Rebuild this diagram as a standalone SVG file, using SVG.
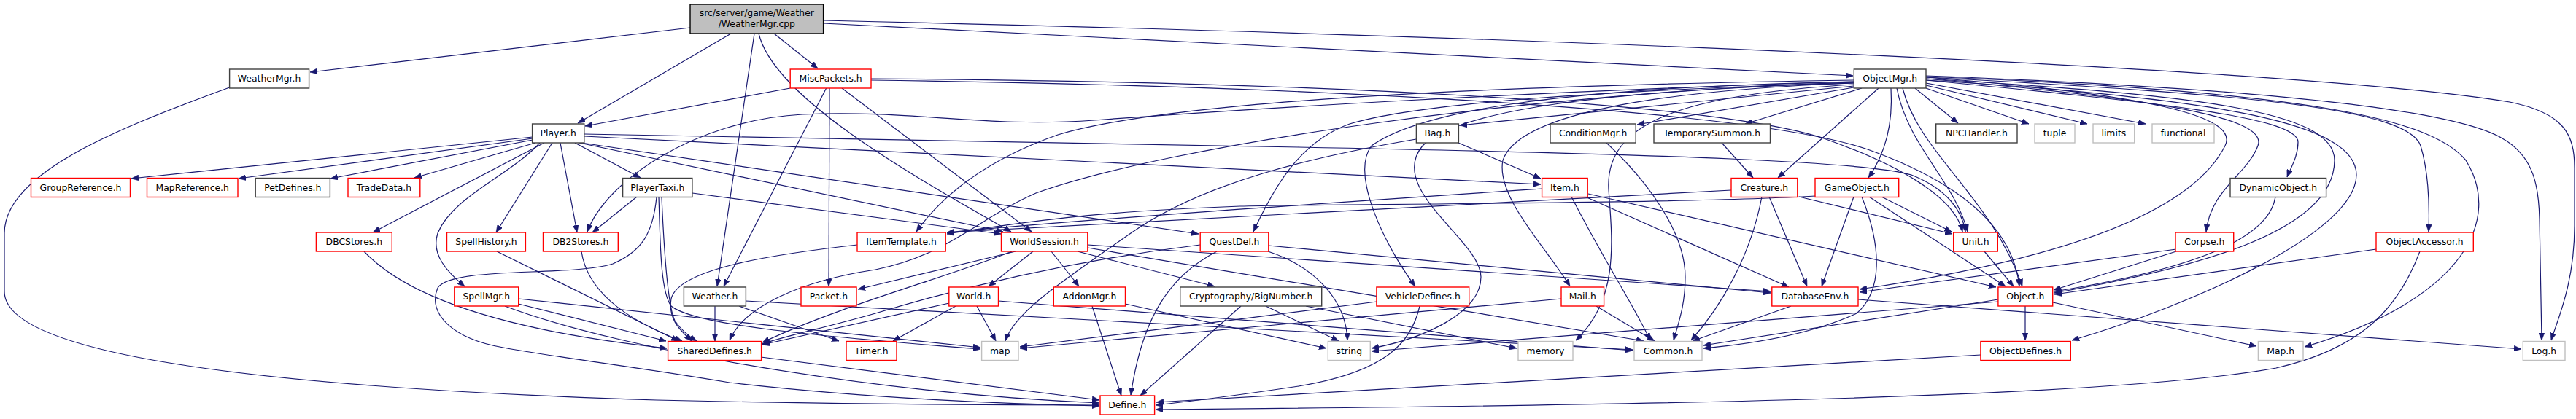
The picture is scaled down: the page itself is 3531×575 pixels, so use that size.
<svg xmlns="http://www.w3.org/2000/svg" width="3531" height="575" viewBox="0 0 3531 575">
<style>
.n rect{fill:#fff;stroke-width:1.4}
.r rect{stroke:#ff0000}
.b rect{stroke:#404040}
.g rect{stroke:#bfbfbf}
.m rect{fill:#bfbfbf;stroke:#000}
text{font-family:"DejaVu Sans","Liberation Sans",sans-serif;font-size:12.4px;text-anchor:middle;fill:#000}
#edges path{fill:none;stroke:#191970;stroke-width:1.2;marker-end:url(#ah)}
</style>
<defs>
<marker id="ah" viewBox="0 0 10 8" refX="10" refY="4" markerWidth="10" markerHeight="8" markerUnits="userSpaceOnUse" orient="auto">
<path d="M0,0 L10,4 L0,8 z" fill="#191970" stroke="#191970" stroke-width="0.5"/>
</marker>
</defs>
<rect width="3531" height="575" fill="#fff"/>
<g id="edges">
<path d="M946,38 L425,99"/>
<path d="M1002,46 L792,169"/>
<path d="M1061,46 L1121,94"/>
<path d="M1128.6,32 L2540,104"/>
<path d="M1128.6,28 C2300,55 3200,100 3440,140 C3515,155 3529,185 3529,230 L3529,310 C3529,390 3505,440 3497,467"/>
<path d="M1034,46 L983,393"/>
<path d="M1040,46 C1060,130 1230,230 1386,318"/>
<path d="M314.6,120 C150,180 6,240 6,320 L6,400 C6,480 300,530 900,549 C1200,556 1400,556 1507,556"/>
<path d="M1083,121 L802,173"/>
<path d="M1132.6,121 L992,393"/>
<path d="M1137,121 L1136,393"/>
<path d="M1154,121 L1414,318"/>
<path d="M1194,108 C1800,112 2350,140 2500,190 C2600,225 2680,270 2690,318"/>
<path d="M1194,110 C1800,118 2400,150 2560,205 C2700,255 2760,320 2768,393"/>
<path d="M730,188 L180,245"/>
<path d="M730,190 L327,245"/>
<path d="M730,192 L453,245"/>
<path d="M734,196 L568,244"/>
<path d="M788,196 L878,244"/>
<path d="M746,196 L511,319"/>
<path d="M740,196 C700,240 620,270 600,320 C590,350 615,375 637,393"/>
<path d="M757,196 L680,319"/>
<path d="M768,196 L791,319"/>
<path d="M801,187 L2112,253"/>
<path d="M801,184 L1780,202 C2300,212 2560,222 2620,240 C2670,260 2690,290 2694,318"/>
<path d="M797,196 L1643,321"/>
<path d="M794,196 L1375,318"/>
<path d="M873,270 L812,319"/>
<path d="M949,265 L1372,321"/>
<path d="M900,270.5 C895,320 880,345 840,362 C780,380 620,365 600,395 C585,430 620,465 690,477 C760,490 850,500 1000,525 C1200,548 1400,555 1507,557"/>
<path d="M903,270.5 C905,330 905,400 920,420 C950,445 1100,460 1344,479"/>
<path d="M907,270.5 C910,340 915,420 925,440 C935,455 945,462 955,468"/>
<path d="M980,420 L980,468"/>
<path d="M1013,420 L1150,468"/>
<path d="M1022,413 L2238,480"/>
<path d="M710.7,417 L913,468"/>
<path d="M710.7,410 L1344,477"/>
<path d="M692,420 C850,480 1200,540 1507,553"/>
<path d="M499,345 C560,410 700,455 914,478"/>
<path d="M681,345 L930,468"/>
<path d="M797,345 C805,400 860,440 935,468"/>
<path d="M1175,336 C1050,350 930,370 920,410 C915,440 935,455 948,468"/>
<path d="M1392,345 L1176,397"/>
<path d="M1387,345 C1300,380 1150,420 1045,470"/>
<path d="M1416,345 L1355,393"/>
<path d="M1441,345 L1479,393"/>
<path d="M1477,345 L1665,393"/>
<path d="M1491,336 L2427,400"/>
<path d="M1491,340 L2253,468"/>
<path d="M1301,416 L1045,473"/>
<path d="M1310,420 L1224,468"/>
<path d="M1339,420 L1365,468"/>
<path d="M1368.5,413 L2238,481"/>
<path d="M1497,420 L1537,543"/>
<path d="M1542.5,417 L1818,478"/>
<path d="M1701,420 L1563,543"/>
<path d="M1735,420 L1835,468"/>
<path d="M1790,420 L2079,478"/>
<path d="M1668,345 C1600,380 1565,440 1550,542"/>
<path d="M1739,337 L2427,402"/>
<path d="M1645,336 C1450,360 1300,400 1200,430 C1130,450 1080,460 1045,472"/>
<path d="M1738,345 C1800,365 1845,410 1847,467"/>
<path d="M1946,420 C1935,470 1900,510 1780,530 C1700,542 1620,552 1584,556"/>
<path d="M1887,414 L1398,476"/>
<path d="M2188,420 L2268,468"/>
<path d="M2140,410 L1398,478"/>
<path d="M2455,420 L2320,468"/>
<path d="M2547,411 L3456,479"/>
<path d="M2776,420 L2776,467"/>
<path d="M2814,415 L3093,475"/>
<path d="M2739,411 L2335,474"/>
<path d="M2739,414 L1880,482"/>
<path d="M2715,487 L1585,552"/>
<path d="M3257,342 L2816,404"/>
<path d="M3317,345 C3285,430 3230,480 3120,505 C2900,545 2300,556 1584,562"/>
<path d="M2983,345 L2815,398"/>
<path d="M2983,342 L2549,401"/>
<path d="M2720,345 L2760,393"/>
<path d="M2466,270 L2676,321"/>
<path d="M2425,270 L2477,393"/>
<path d="M2415,270 C2400,350 2360,420 2318,467"/>
<path d="M2373,261 L1298,319"/>
<path d="M2579,270 L2675,318"/>
<path d="M2562,270 L2749,393"/>
<path d="M2541,270 L2497,393"/>
<path d="M2552,270 C2580,340 2580,400 2545,430 C2480,460 2400,472 2335,478"/>
<path d="M2488,269 C2300,280 1800,280 1700,283 C1500,290 1400,305 1298,321"/>
<path d="M2114,259 C1800,280 1500,300 1298,319"/>
<path d="M2154,270 C2200,360 2240,420 2262,467"/>
<path d="M2173,270 L2452,394"/>
<path d="M2177,266 L2736,394"/>
<path d="M1999,196 L2112,245"/>
<path d="M1941,191 C1800,215 1650,250 1550,320 C1450,390 1390,430 1378,468"/>
<path d="M2202,196 C2260,250 2310,320 2310,380 C2310,420 2300,445 2294,467"/>
<path d="M2360,196 L2403,244"/>
<path d="M3119,270 C3110,330 3000,370 2816,400"/>
<path d="M2541,118 L2001,172"/>
<path d="M2541,120 L2244,171"/>
<path d="M2552,121 L2392,170"/>
<path d="M2575,121 L2437,244"/>
<path d="M2592,121 C2595,170 2585,210 2561,244"/>
<path d="M2600,121 C2615,200 2680,250 2697,318"/>
<path d="M2608,121 C2630,210 2730,270 2772,393"/>
<path d="M2625,121 L2684,169"/>
<path d="M2640,121 L2781,170"/>
<path d="M2640,117 L2861,170"/>
<path d="M2640,114 L2941,170"/>
<path d="M2640,106 C2950,130 3070,160 3050,200 C3000,300 2800,360 2549,397"/>
<path d="M2640,108 C2950,135 3110,160 3095,200 C3080,240 3030,260 3024,318"/>
<path d="M2640,110 C2950,140 3150,160 3150,195 C3150,215 3140,230 3135,243"/>
<path d="M2640,108 C3000,130 3200,150 3200,220 C3200,320 3000,370 2816,402"/>
<path d="M2640,110 C3050,135 3230,170 3230,240 C3230,320 3000,420 2840,467"/>
<path d="M2640,106 C3100,130 3300,150 3318,200 C3330,240 3330,290 3329,318"/>
<path d="M2640,105 C3150,125 3330,160 3380,220 C3430,300 3380,410 3159,476"/>
<path d="M2640,104 C3200,125 3380,160 3430,190 C3475,215 3480,260 3481,300 L3484,467"/>
<path d="M2541,110 C2000,118 1600,140 1450,185 C1350,220 1290,270 1256,318"/>
<path d="M2541,112 C2100,125 1700,150 1500,165 C1350,176 1250,150 1100,157 C950,165 830,250 805,318"/>
<path d="M2541,113 C2200,125 1950,140 1850,170 C1780,195 1745,260 1718,318"/>
<path d="M2541,114 C2100,125 1600,200 1420,265 C1340,300 1300,350 1200,370 C1100,385 1020,420 1000,467"/>
<path d="M2541,112 C2150,120 1950,150 1880,200 C1850,240 1900,340 1940,393"/>
<path d="M2541,113 C2200,125 2000,150 1950,200 C1900,260 2030,330 2030,380 C2030,430 1950,465 1880,478"/>
<path d="M2541,114 C2250,125 2080,160 2060,220 C2050,270 2120,340 2152,393"/>
<path d="M2541,116 C2300,130 2200,170 2205,260 C2210,330 2220,410 2160,467"/>
<path d="M1043,490 L1507,549"/>
</g>
<g id="n_main" class="n m"><rect x="946" y="6" width="182.6" height="40"/><text x="1037.3" y="21.5">src/server/game/Weather</text><text x="1037.3" y="37">/WeatherMgr.cpp</text></g>
<g id="n_weathermgr" class="n b"><rect x="314.6" y="95" width="109" height="26"/><text x="369.1" y="112">WeatherMgr.h</text></g>
<g id="n_miscpackets" class="n r"><rect x="1083.2" y="95" width="110.8" height="26"/><text x="1138.6" y="112">MiscPackets.h</text></g>
<g id="n_objectmgr" class="n b"><rect x="2541.3" y="95" width="98.7" height="26"/><text x="2590.7" y="112">ObjectMgr.h</text></g>
<g id="n_player" class="n b"><rect x="729.6" y="170" width="71.2" height="26"/><text x="765.2" y="187">Player.h</text></g>
<g id="n_bag" class="n b"><rect x="1941.4" y="170" width="58" height="26"/><text x="1970.4" y="187">Bag.h</text></g>
<g id="n_conditionmgr" class="n b"><rect x="2125" y="170" width="117.2" height="26"/><text x="2183.6" y="187">ConditionMgr.h</text></g>
<g id="n_temporarysummon" class="n b"><rect x="2267" y="170" width="159.5" height="26"/><text x="2346.75" y="187">TemporarySummon.h</text></g>
<g id="n_npchandler" class="n b"><rect x="2653.7" y="170" width="111.3" height="26"/><text x="2709.35" y="187">NPCHandler.h</text></g>
<g id="n_tuple" class="n g"><rect x="2789" y="170" width="55" height="26"/><text x="2816.5" y="187">tuple</text></g>
<g id="n_limits" class="n g"><rect x="2869" y="170" width="56.7" height="26"/><text x="2897.35" y="187">limits</text></g>
<g id="n_functional" class="n g"><rect x="2950" y="170" width="85" height="26"/><text x="2992.5" y="187">functional</text></g>
<g id="n_groupreference" class="n r"><rect x="42.5" y="244.5" width="136" height="26"/><text x="110.5" y="261.5">GroupReference.h</text></g>
<g id="n_mapreference" class="n r"><rect x="201.5" y="244.5" width="124.5" height="26"/><text x="263.75" y="261.5">MapReference.h</text></g>
<g id="n_petdefines" class="n b"><rect x="350.2" y="244.5" width="102.2" height="26"/><text x="401.3" y="261.5">PetDefines.h</text></g>
<g id="n_tradedata" class="n r"><rect x="477" y="244.5" width="98.8" height="26"/><text x="526.4" y="261.5">TradeData.h</text></g>
<g id="n_playertaxi" class="n b"><rect x="853.6" y="244.5" width="95.3" height="26"/><text x="901.25" y="261.5">PlayerTaxi.h</text></g>
<g id="n_item" class="n r"><rect x="2113.6" y="244.5" width="62.6" height="26"/><text x="2144.9" y="261.5">Item.h</text></g>
<g id="n_creature" class="n r"><rect x="2373" y="244.5" width="90.8" height="26"/><text x="2418.4" y="261.5">Creature.h</text></g>
<g id="n_gameobject" class="n r"><rect x="2488" y="244.5" width="114.7" height="26"/><text x="2545.35" y="261.5">GameObject.h</text></g>
<g id="n_dynamicobject" class="n b"><rect x="3057" y="244.5" width="131.6" height="26"/><text x="3122.8" y="261.5">DynamicObject.h</text></g>
<g id="n_dbcstores" class="n r"><rect x="433.4" y="319" width="103.9" height="26"/><text x="485.35" y="336">DBCStores.h</text></g>
<g id="n_spellhistory" class="n r"><rect x="612.5" y="319" width="107.9" height="26"/><text x="666.45" y="336">SpellHistory.h</text></g>
<g id="n_db2stores" class="n r"><rect x="744.5" y="319" width="102.8" height="26"/><text x="795.9" y="336">DB2Stores.h</text></g>
<g id="n_itemtemplate" class="n r"><rect x="1175" y="319" width="121.2" height="26"/><text x="1235.6" y="336">ItemTemplate.h</text></g>
<g id="n_worldsession" class="n r"><rect x="1372.5" y="319" width="118.3" height="26"/><text x="1431.65" y="336">WorldSession.h</text></g>
<g id="n_questdef" class="n r"><rect x="1645.2" y="319" width="93.6" height="26"/><text x="1692" y="336">QuestDef.h</text></g>
<g id="n_unit" class="n r"><rect x="2677.7" y="319" width="60.6" height="26"/><text x="2708" y="336">Unit.h</text></g>
<g id="n_corpse" class="n r"><rect x="2982" y="319" width="79.7" height="26"/><text x="3021.85" y="336">Corpse.h</text></g>
<g id="n_objectaccessor" class="n r"><rect x="3257" y="319" width="133.3" height="26"/><text x="3323.65" y="336">ObjectAccessor.h</text></g>
<g id="n_spellmgr" class="n r"><rect x="622.8" y="394" width="87.9" height="26"/><text x="666.75" y="411">SpellMgr.h</text></g>
<g id="n_weather" class="n b"><rect x="937.4" y="394" width="85" height="26"/><text x="979.9" y="411">Weather.h</text></g>
<g id="n_packet" class="n r"><rect x="1098" y="394" width="76" height="26"/><text x="1136" y="411">Packet.h</text></g>
<g id="n_world" class="n r"><rect x="1300.8" y="394" width="67.7" height="26"/><text x="1334.65" y="411">World.h</text></g>
<g id="n_addonmgr" class="n r"><rect x="1444.3" y="394" width="98.2" height="26"/><text x="1493.4" y="411">AddonMgr.h</text></g>
<g id="n_bignumber" class="n b"><rect x="1617.7" y="394" width="194" height="26"/><text x="1714.7" y="411">Cryptography/BigNumber.h</text></g>
<g id="n_vehicledefines" class="n r"><rect x="1886.9" y="394" width="126.8" height="26"/><text x="1950.3" y="411">VehicleDefines.h</text></g>
<g id="n_mail" class="n r"><rect x="2140" y="394" width="58.6" height="26"/><text x="2169.3" y="411">Mail.h</text></g>
<g id="n_databaseenv" class="n r"><rect x="2428.8" y="394" width="118.2" height="26"/><text x="2487.9" y="411">DatabaseEnv.h</text></g>
<g id="n_object" class="n r"><rect x="2738.9" y="394" width="74.8" height="26"/><text x="2776.3" y="411">Object.h</text></g>
<g id="n_shareddefines" class="n r"><rect x="915.6" y="468.5" width="128" height="26"/><text x="979.6" y="485.5">SharedDefines.h</text></g>
<g id="n_timer" class="n r"><rect x="1160" y="468.5" width="69" height="26"/><text x="1194.5" y="485.5">Timer.h</text></g>
<g id="n_map" class="n g"><rect x="1345.6" y="468.5" width="50.4" height="26"/><text x="1370.8" y="485.5">map</text></g>
<g id="n_string" class="n g"><rect x="1820.3" y="468.5" width="58" height="26"/><text x="1849.3" y="485.5">string</text></g>
<g id="n_memory" class="n g"><rect x="2081" y="468.5" width="75" height="26"/><text x="2118.5" y="485.5">memory</text></g>
<g id="n_common" class="n g"><rect x="2240" y="468.5" width="93" height="26"/><text x="2286.5" y="485.5">Common.h</text></g>
<g id="n_objectdefines" class="n r"><rect x="2714.9" y="468.5" width="123.4" height="26"/><text x="2776.6" y="485.5">ObjectDefines.h</text></g>
<g id="n_maph" class="n g"><rect x="3095.4" y="468.5" width="61.6" height="26"/><text x="3126.2" y="485.5">Map.h</text></g>
<g id="n_log" class="n g"><rect x="3458.3" y="468.5" width="57.7" height="26"/><text x="3487.15" y="485.5">Log.h</text></g>
<g id="n_define" class="n r"><rect x="1508" y="543" width="74.6" height="26"/><text x="1545.3" y="560">Define.h</text></g>
</svg>
